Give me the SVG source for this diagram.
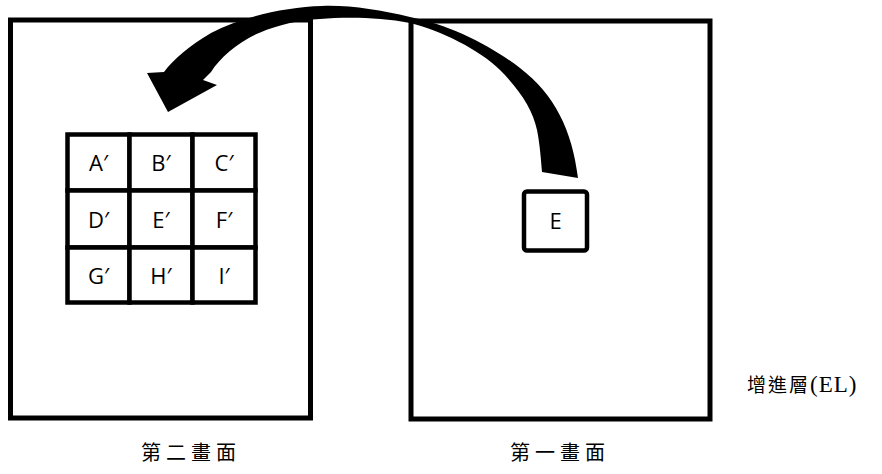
<svg xmlns="http://www.w3.org/2000/svg" width="882" height="474" viewBox="0 0 882 474">
<style>
.frame{fill:none;stroke:#000;stroke-width:5}
.cell{fill:#fff;stroke:#000;stroke-width:4.5}
.lbl{font-family:"Open Sans","Liberation Sans",sans-serif;font-size:22px;fill:#000;text-anchor:middle}
.cap{font-family:"Noto Sans CJK TC","Noto Sans CJK SC",serif;font-size:20px;fill:#000;text-anchor:middle;letter-spacing:5px}
</style>
<rect width="882" height="474" fill="#fff"/>
<g id="screen2">
<rect class="frame" x="10.5" y="20" width="300" height="398"/>
<text class="cap" x="191" y="460">第二畫面</text>
</g>
<g id="screen1">
<rect class="frame" x="411" y="21" width="299" height="398"/>
<text class="cap" x="560" y="460">第一畫面</text>
</g>
<g id="grid">
<rect class="cell" x="67.5" y="134.5" width="62" height="56"/>
<rect class="cell" x="129.5" y="134.5" width="63" height="56"/>
<rect class="cell" x="192.5" y="134.5" width="63" height="56"/>
<rect class="cell" x="67.5" y="190.5" width="62" height="57"/>
<rect class="cell" x="129.5" y="190.5" width="63" height="57"/>
<rect class="cell" x="192.5" y="190.5" width="63" height="57"/>
<rect class="cell" x="67.5" y="247.5" width="62" height="55"/>
<rect class="cell" x="129.5" y="247.5" width="63" height="55"/>
<rect class="cell" x="192.5" y="247.5" width="63" height="55"/>
<text class="lbl" x="98.5" y="171">A′</text>
<text class="lbl" x="161" y="171">B′</text>
<text class="lbl" x="224" y="171">C′</text>
<text class="lbl" x="98.5" y="228">D′</text>
<text class="lbl" x="161" y="228">E′</text>
<text class="lbl" x="224" y="228">F′</text>
<text class="lbl" x="98.5" y="284">G′</text>
<text class="lbl" x="161" y="284">H′</text>
<text class="lbl" x="224" y="284">I′</text>
</g>
<g id="blockE">
<rect class="cell" x="524" y="191.5" width="63" height="59" rx="3"/>
<text class="lbl" x="555.5" y="229">E</text>
</g>
<g id="layer-label">
<text x="747" y="392" font-family="Noto Sans CJK TC, Noto Sans CJK SC, serif" font-size="19" fill="#000" letter-spacing="2">增進層<tspan font-family="Liberation Serif, serif" font-size="23" letter-spacing="1">(EL)</tspan></text>
</g>
<g id="connectors">
<path fill="#000" d="M542,172 L578,178 C572,130 555,95 520,68 C490,45 450,25 410,17 C380,10 350,5 322,6 C285,7 242,17 211,33 C190,45 173,60 164,72 L147,73 L168,112 L217,85 L203,80 L211,72 C220,58 238,42 259,33 C280,24 300,20 320,19 C345,17 380,17 410,23 C440,30 480,50 500,70 C520,90 533,110 537,130 C540,145 541,160 542,172 Z"/>
</g>
</svg>
